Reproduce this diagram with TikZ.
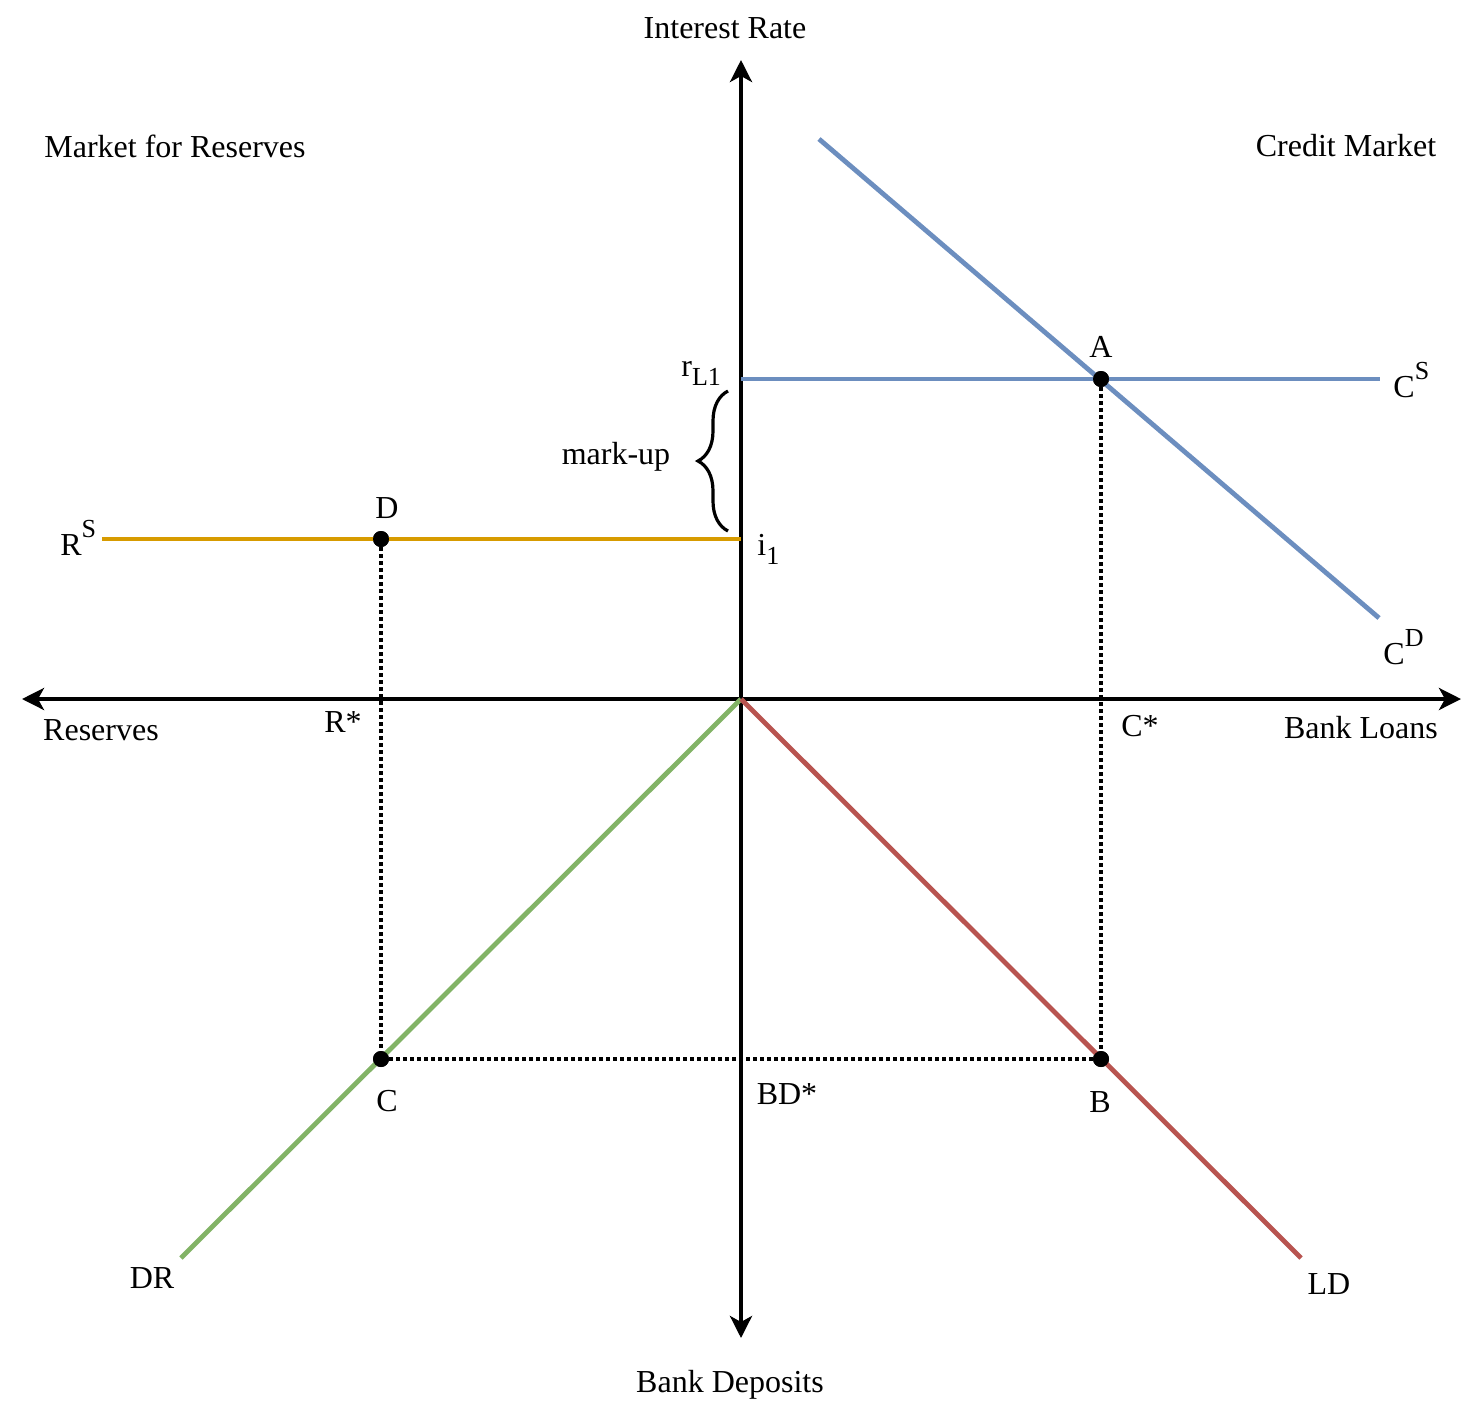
\documentclass[tikz,border=0pt]{standalone}
\usepackage{fontspec}
\setmainfont{Liberation Serif}
\usetikzlibrary{arrows.meta,decorations.pathreplacing}
\newcommand\supx[1]{\raisebox{0.55em}{\fontsize{13}{13}\selectfont #1}}
\newcommand\subx[1]{\raisebox{-0.3em}{\fontsize{13}{13}\selectfont #1}}
\tikzset{
  axis/.style={line width=2pt,-{Stealth[length=11pt,width=11pt,inset=3pt]}},
  curve/.style={line width=2.4pt},
  guide/.style={line width=1.6pt,dash pattern=on 1.6pt off 1.9pt},
  pt/.style={circle,fill=black,inner sep=0pt,minimum size=8pt},
  lbl/.style={inner sep=0pt,font=\fontsize{16}{18}\selectfont},
  blbl/.style={lbl,anchor=base west}
}
\definecolor{cblue}{HTML}{6C8EBF}
\definecolor{cyellow}{HTML}{D79B00}
\definecolor{cgreen}{HTML}{82B366}
\definecolor{cred}{HTML}{B85450}
\begin{document}
\begin{tikzpicture}[x=0.5pt,y=-0.5pt]
\useasboundingbox (0,0) rectangle (1484,1404);
% axes
\coordinate (O) at (741,699);
\coordinate (top) at (741,60);
\coordinate (bot) at (741,1338);
\coordinate (left) at (22,699);
\coordinate (right) at (1461,699);
\draw[axis] (O) -- (top);
\draw[axis] (O) -- (bot);
\draw[axis] (O) -- (left);
\draw[axis] (O) -- (right);
% curve end points
\coordinate (cd1) at (819,139);
\coordinate (cd2) at (1379,618);
\coordinate (cs1) at (741,379);
\coordinate (cs2) at (1380,379);
\coordinate (rs1) at (102,539);
\coordinate (rs2) at (741,539);
\coordinate (dr) at (181,1258);
\coordinate (ld) at (1301,1258);
% guides
\node[pt] (A) at (1101,379) {};
\node[pt] (D) at (381,539) {};
\node[pt] (C) at (381,1059) {};
\node[pt] (B) at (1101,1059) {};
\draw[guide] (D) -- (C);
\draw[guide] (A) -- (B);
\draw[guide] (C) -- (B);
% curves
\draw[curve,cblue] (cd1) -- (cd2);
\draw[curve,cblue] (cs1) -- (cs2);
\draw[curve,cyellow] (rs1) -- (rs2);
\draw[curve,cgreen] (O) -- (dr);
\draw[curve,cred] (O) -- (ld);
\node[pt] at (A) {};
\node[pt] at (D) {};
\node[pt] at (C) {};
\node[pt] at (B) {};
% brace
\coordinate (br1) at (728,531);
\coordinate (br2) at (728,391);
\draw[line width=1.6pt,decorate,decoration={brace,amplitude=15pt}] (br1) -- (br2);
% labels
\node[lbl] (tIR) at (725,28) {Interest Rate};
\node[lbl] (tMR) at (175,146) {Market for Reserves};
\node[lbl] (tCM) at (1346,146) {Credit Market};
\node[lbl] (tMU) at (616,457) {mark-up};
\node[lbl] (tRes) at (101,730) {Reserves};
\node[lbl] (tRs) at (343,722) {R*};
\node[lbl] (tCs) at (1140,726) {C*};
\node[lbl] (tBL) at (1361,728) {Bank Loans};
\node[lbl] (tBD) at (787,1094) {BD*};
\node[lbl] (tA) at (1101,347) {A};
\node[lbl] (tD) at (387,508) {D};
\node[lbl] (tC) at (387,1101) {C};
\node[lbl] (tB) at (1100,1102) {B};
\node[lbl] (tDR) at (152,1278) {DR};
\node[lbl] (tLD) at (1329,1284) {LD};
\node[lbl] (tBDep) at (730,1385) {Bank Deposits};
\node[blbl] (tRS) at (60,555) {R\supx{S}};
\node[blbl] (tCS) at (1393,397) {C\supx{S}};
\node[blbl] (tCD) at (1383,664) {C\supx{D}};
\node[blbl] (trL) at (681,376) {r\subx{L1}};
\node[blbl] (ti) at (757,555) {i\subx{1}};
\end{tikzpicture}
\end{document}
